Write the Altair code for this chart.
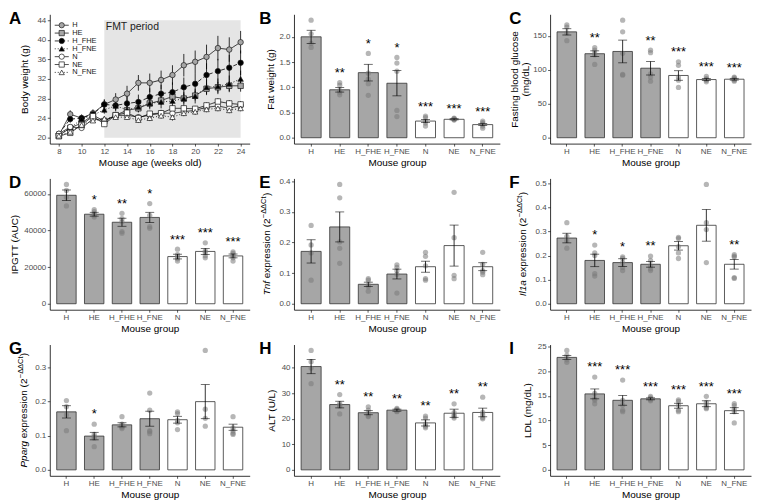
import altair as alt
import pandas as pd

FONT = "Liberation Sans"
LABEL_COLOR = "#4d4d4d"

# ---------------- data ----------------
GROUPS = ["H", "HE", "H_FHE", "H_FNE", "N", "NE", "N_FNE"]
GROUP_KIND = ["H", "H", "H", "H", "N", "N", "N"]

# Panel A: body weight time course
WEEKS = list(range(8, 25))
FMT_WEEKS = [12, 24]
SERIES = ["H", "HE", "H_FHE", "H_FNE", "N", "NE", "N_FNE"]
BW_MEAN = {
    "H":     [20.5, 24.8, 24.0, 25.0, 26.8, 27.8, 29.0, 31.2, 31.2, 31.8, 32.8, 34.8, 35.5, 36.5, 38.3, 38.0, 39.5],
    "HE":    [20.4, 22.0, 23.0, 24.6, 23.4, 24.6, 25.6, 26.0, 27.0, 27.6, 28.4, 28.0, 28.6, 30.0, 30.3, 30.6, 30.6],
    "H_FHE": [20.8, 23.8, 24.0, 24.8, 26.8, 26.6, 27.0, 27.3, 28.3, 29.0, 29.3, 30.3, 31.0, 32.8, 33.6, 34.3, 35.3],
    "H_FNE": [20.6, 22.0, 23.8, 24.6, 25.7, 26.5, 25.7, 26.3, 27.0, 27.3, 27.5, 28.0, 28.5, 30.3, 30.5, 31.0, 32.0],
    "N":     [20.8, 22.2, 22.0, 23.8, 23.5, 24.5, 24.6, 24.2, 24.6, 25.0, 25.0, 25.3, 25.6, 26.2, 26.5, 26.0, 26.6],
    "NE":    [20.3, 21.0, 22.6, 24.4, 22.8, 24.6, 25.1, 24.0, 24.9, 25.0, 26.0, 26.0, 25.9, 26.6, 27.4, 27.0, 26.8],
    "N_FNE": [20.4, 21.2, 22.6, 23.5, 23.9, 24.2, 24.2, 23.6, 24.0, 24.5, 24.2, 25.0, 25.3, 25.8, 26.0, 25.6, 26.0],
}
BW_SE = {
    "H":     [0.5, 0.8, 0.7, 0.8, 1.0, 1.3, 1.6, 1.6, 1.9, 1.9, 2.0, 2.3, 2.3, 2.5, 2.5, 2.5, 2.3],
    "HE":    [0.4, 0.5, 0.6, 0.6, 0.7, 0.7, 0.8, 0.8, 0.9, 0.9, 1.0, 1.0, 1.0, 1.1, 1.1, 1.1, 1.2],
    "H_FHE": [0.5, 0.7, 0.7, 0.8, 1.0, 1.2, 1.5, 1.5, 1.8, 1.8, 2.0, 2.0, 2.2, 2.4, 2.5, 2.6, 2.5],
    "H_FNE": [0.4, 0.5, 0.6, 0.7, 0.8, 0.9, 1.0, 1.1, 1.2, 1.3, 1.4, 1.4, 1.5, 1.6, 1.6, 1.7, 1.7],
    "N":     [0.4, 0.5, 0.5, 0.5, 0.6, 0.6, 0.6, 0.6, 0.6, 0.7, 0.7, 0.7, 0.7, 0.7, 0.7, 0.8, 0.8],
    "NE":    [0.4, 0.4, 0.5, 0.5, 0.5, 0.5, 0.5, 0.6, 0.6, 0.6, 0.6, 0.6, 0.6, 0.6, 0.7, 0.7, 0.7],
    "N_FNE": [0.4, 0.4, 0.5, 0.5, 0.5, 0.5, 0.5, 0.6, 0.6, 0.6, 0.7, 0.6, 0.6, 0.6, 0.6, 0.6, 0.6],
}
A_TICKS = [20, 24, 28, 32, 36, 40, 44]
A_XTICKS = [8, 10, 12, 14, 16, 18, 20, 22, 24]
SHAPES = ["circle", "square", "circle", "triangle-up", "circle", "square", "triangle-up"]
FILLS = ["#A6A6A6", "#A6A6A6", "#000000", "#000000", "#FFFFFF", "#FFFFFF", "#FFFFFF"]
DASHES = [[1, 0], [1, 0], [4, 2.5], [1, 2], [1, 0], [1, 0], [1, 2]]

# Panel B: fat weight
FAT_MEAN = [2.00, 0.95, 1.29, 1.08, 0.33, 0.365, 0.26]
FAT_SE = [0.13, 0.045, 0.165, 0.25, 0.03, 0.012, 0.02]
FAT_PTS = [[2.33, 2.06, 1.87, 1.79], [1.09, 1.04, 0.94, 0.90, 0.85], [1.67, 1.28, 1.16, 1.07, 0.84],
           [1.59, 1.48, 1.32, 0.54, 0.42], [0.43, 0.40, 0.33, 0.29, 0.23], [0.39, 0.38, 0.37, 0.36, 0.35],
           [0.33, 0.30, 0.27, 0.23, 0.19]]
FAT_SIG = ["", "**", "*", "*", "***", "***", "***"]

# Panel C: fasting blood glucose
GLU_MEAN = [155.6, 123.5, 126.8, 102.2, 91.5, 85.5, 86.0]
GLU_SE = [4.6, 4.2, 16.7, 10.0, 7.0, 1.5, 1.3]
GLU_PTS = [[165.8, 162.6, 154.0, 142.6], [132.4, 128.7, 124.0, 121.7, 107.8], [172.8, 155.6, 124.0, 93.0, 92.0],
           [128.7, 125.0, 93.8, 89.2, 83.1], [111.5, 106.4, 89.2, 84.5, 73.9], [90.0, 86.9, 85.5, 84.5, 82.2],
           [89.2, 87.8, 86.0, 84.5, 83.1]]
GLU_SIG = ["", "**", "", "**", "***", "***", "***"]

# Panel D: IPGTT
IPGTT_MEAN = [59300, 48950, 44560, 47190, 25790, 28600, 26140]
IPGTT_SE = [2900, 1050, 2200, 2800, 1300, 1670, 1050]
IPGTT_PTS = [[65260, 61930, 58250, 53500], [51400, 50350, 49120, 48250, 47370], [49470, 46490, 44740, 39470, 38600],
             [54740, 48250, 42100, 41230], [29820, 26840, 25790, 24560, 23330], [33330, 28950, 28070, 26300, 25090],
             [28420, 27540, 26300, 25090, 23330]]
IPGTT_SIG = ["", "*", "**", "*", "***", "***", "***"]

# Panel E: Tnf
TNF_MEAN = [0.171, 0.251, 0.0635, 0.097, 0.121, 0.190, 0.121]
TNF_SE = [0.038, 0.049, 0.007, 0.016, 0.018, 0.067, 0.013]
TNF_PTS = [[0.256, 0.192, 0.166, 0.077], [0.390, 0.346, 0.202, 0.181, 0.132], [0.082, 0.077, 0.061, 0.056, 0.041],
           [0.127, 0.119, 0.108, 0.096, 0.035], [0.168, 0.155, 0.124, 0.082, 0.077], [0.364, 0.216, 0.093, 0.082],
           [0.168, 0.129, 0.108, 0.103, 0.095]]
TNF_SIG = ["", "", "", "", "", "", ""]

# Panel F: Il1a
IL1A_MEAN = [0.273, 0.180, 0.171, 0.164, 0.241, 0.326, 0.164]
IL1A_SE = [0.020, 0.026, 0.016, 0.012, 0.018, 0.066, 0.020]
IL1A_PTS = [[0.337, 0.280, 0.262, 0.231], [0.244, 0.211, 0.200, 0.125, 0.115], [0.195, 0.188, 0.171, 0.151, 0.138],
            [0.198, 0.180, 0.158, 0.145, 0.138], [0.276, 0.271, 0.237, 0.211, 0.188], [0.496, 0.337, 0.308, 0.171],
            [0.204, 0.198, 0.194, 0.109, 0.105]]
IL1A_SIG = ["", "*", "*", "**", "", "", "**"]

# Panel G: Pparg
PPARG_MEAN = [0.170, 0.099, 0.132, 0.150, 0.147, 0.200, 0.125]
PPARG_SE = [0.018, 0.011, 0.006, 0.022, 0.010, 0.050, 0.009]
PPARG_PTS = [[0.203, 0.185, 0.161, 0.115], [0.134, 0.104, 0.097, 0.093, 0.068], [0.156, 0.134, 0.128, 0.125, 0.121],
             [0.225, 0.175, 0.115, 0.112, 0.106], [0.170, 0.165, 0.145, 0.138, 0.118], [0.350, 0.178, 0.151, 0.128],
             [0.156, 0.123, 0.114, 0.107, 0.104]]
PPARG_SIG = ["", "*", "", "", "", "", ""]

# Panel H: ALT
ALT_MEAN = [40.5, 25.6, 22.4, 23.4, 18.4, 22.2, 22.5]
ALT_SE = [2.8, 1.3, 0.8, 0.4, 1.2, 1.6, 1.7]
ALT_PTS = [[46.8, 42.4, 39.9, 33.8], [29.5, 26.0, 25.3, 24.9, 21.9], [24.7, 23.4, 21.8, 21.1, 20.9],
           [24.1, 23.7, 23.3, 23.0, 22.8], [21.1, 20.3, 18.0, 17.1, 16.5], [25.9, 22.4, 21.5, 20.9, 20.3],
           [28.5, 22.5, 21.5, 20.5, 20.0]]
ALT_SIG = ["", "**", "**", "**", "**", "**", "**"]

# Panel I: LDL
LDL_MEAN = [22.8, 15.4, 14.1, 14.4, 13.0, 13.4, 12.0]
LDL_SE = [0.4, 1.0, 1.0, 0.2, 0.5, 0.6, 0.6]
LDL_PTS = [[24.2, 23.2, 22.3, 21.8], [18.8, 15.5, 14.4, 14.1, 13.4], [18.2, 14.1, 13.1, 12.1, 11.8],
           [14.9, 14.6, 14.4, 14.2, 14.0], [14.2, 13.9, 13.1, 12.1, 11.8], [14.9, 13.7, 13.1, 12.6, 12.4],
           [13.4, 13.0, 12.3, 11.8, 9.5]]
LDL_SIG = ["", "***", "***", "***", "***", "***", "***"]

# ---------------- helpers ----------------
DUMMY = pd.DataFrame({"d": [0]})

# Arial / Liberation Sans advance widths (per 1000 em) for manual title layout
ADV = {"T": 611, "n": 556, "f": 278, "I": 278, "l": 222, "1": 556, "a": 556, "P": 667, "p": 556,
       "r": 333, "g": 556, " ": 278, "e": 556, "x": 500, "s": 500, "i": 222, "o": 556, "(": 333,
       ")": 333, "2": 556, "\u2212": 584, "\u0394": 668, "C": 722, "t": 278}


def tw(s, fs):
    return sum(ADV.get(c, 556) for c in s) * fs / 1000.0


def y_axis(values, fmt, title, off):
    return alt.Axis(title=title, values=values, format=fmt, tickSize=2.5, labelPadding=1.5,
                    minExtent=off - 2, maxExtent=off - 2, titlePadding=2, titleLineHeight=11,
                    labelFlush=False, labelOverlap=False)


def letter_layer(letter, lx):
    return alt.Chart(DUMMY).mark_text(text=letter, fontSize=17, fontWeight="bold", align="left",
                                      baseline="top", color="black").encode(
        x=alt.value(lx), y=alt.value(-3))


def gene_title(gene, h, off):
    # (text, font size, style, baseline rise, gap before)
    pieces = [(gene, 10, "italic", 0, 0), ("expression (2", 10, "normal", 0, tw(" ", 10)),
              ("\u2212\u0394\u0394Ct", 7.5, "normal", 3.6, 0.3), (")", 10, "normal", 0, 0.3)]
    total = sum(tw(p[0], p[1]) + p[4] for p in pieces)
    y = h / 2 + total / 2
    base = -(off + 2.1)
    layers = []
    for txt, fs, style, rise, gap in pieces:
        y -= gap
        layers.append(alt.Chart(DUMMY).mark_text(text=txt, fontSize=fs, fontStyle=style, angle=270,
                                                 align="left", baseline="alphabetic", color="black").encode(
            x=alt.value(base - rise), y=alt.value(y)))
        y -= tw(txt, fs)
    return layers


def bar_panel(letter, lx, ytitle, off, means, ses, pts, sig, ticks, fmt, w, h, gene=None):
    M = max(max(max(p) for p in pts), max(m + s for m, s in zip(means, ses)))
    dom = [-0.05 * M, 1.05 * M]
    summ = pd.DataFrame({
        "group": GROUPS, "kind": GROUP_KIND, "mean": means,
        "lo": [m - s for m, s in zip(means, ses)], "hi": [m + s for m, s in zip(means, ses)],
        "sig": sig,
        "top": [max(max(p), m + s) + 0.11 * M for p, m, s in zip(pts, means, ses)],
    })
    sig_df = summ[summ["sig"] != ""]
    pdf = pd.DataFrame([{"group": g, "value": v} for g, p in zip(GROUPS, pts) for v in p])
    x = alt.X("group:N", scale=alt.Scale(domain=GROUPS, paddingInner=0.3, paddingOuter=0.25),
              axis=alt.Axis(title="Mouse group", labelAngle=0, tickSize=2.5, labelPadding=1.5,
                            minExtent=12, maxExtent=12, titlePadding=2, labelOverlap=False,
                            labelFlush=False))
    ysc = alt.Scale(domain=dom, nice=False, zero=False)
    yax = y_axis(ticks, fmt, ytitle, off)

    def Y(f):
        return alt.Y(f, scale=ysc, axis=yax)

    bars = alt.Chart(summ).mark_bar(stroke="#333333", strokeWidth=0.8).encode(
        x=x, y=Y("mean:Q"), y2=alt.datum(0),
        fill=alt.Fill("kind:N", scale=alt.Scale(domain=["H", "N"], range=["#C4C4C4", "#FFFFFF"]), legend=None))
    points = alt.Chart(pdf).mark_circle(size=28, color="#7a7a7a", opacity=0.55).encode(x=x, y=Y("value:Q"))
    err = alt.Chart(summ).mark_rule(color="black", strokeWidth=0.8).encode(x=x, y=Y("lo:Q"), y2="hi:Q")
    cap_lo = alt.Chart(summ).mark_tick(color="black", thickness=0.8, size=9).encode(x=x, y=Y("lo:Q"))
    cap_hi = alt.Chart(summ).mark_tick(color="black", thickness=0.8, size=9).encode(x=x, y=Y("hi:Q"))
    layers = [bars, points, err, cap_lo, cap_hi]
    if len(sig_df):
        stars = alt.Chart(sig_df).mark_text(fontSize=13, dy=3.5, baseline="middle", color="black").encode(
            x=x, y=Y("top:Q"), text="sig:N")
        layers.append(stars)
    layers.append(letter_layer(letter, lx))
    if gene:
        layers += gene_title(gene, h, off)
    return alt.layer(*layers).properties(width=w, height=h)


# ---------------- panel A ----------------
def panel_a(letter_x, w, h):
    rows = []
    for s in SERIES:
        for wk, m, e in zip(WEEKS, BW_MEAN[s], BW_SE[s]):
            rows.append({"series": s, "week": wk, "mean": m, "lo": m - e, "hi": m + e})
    bw = pd.DataFrame(rows)
    ydom = [18.8, 45.2]
    xsc = alt.Scale(domain=[7.2, 24.8], nice=False, zero=False)
    xax = alt.Axis(title="Mouse age (weeks old)", values=A_XTICKS, format="d", tickSize=2.5,
                   labelPadding=1.5, minExtent=12, maxExtent=12, titlePadding=2, labelFlush=False)
    ysc = alt.Scale(domain=ydom, nice=False, zero=False)
    yax = y_axis(A_TICKS, "d", "Body weight (g)", 20.5)

    def X(f):
        return alt.X(f, scale=xsc, axis=xax)

    def Y(f):
        return alt.Y(f, scale=ysc, axis=yax)

    shape_enc = alt.Shape("series:N", scale=alt.Scale(domain=SERIES, range=SHAPES), legend=None)
    fill_enc = alt.Fill("series:N", scale=alt.Scale(domain=SERIES, range=FILLS), legend=None)
    dash_enc = alt.StrokeDash("series:N", scale=alt.Scale(domain=SERIES, range=DASHES), legend=None)

    fmt_df = pd.DataFrame({"x": [FMT_WEEKS[0]], "x2": [FMT_WEEKS[1]], "y": [A_TICKS[0]],
                           "y2": [A_TICKS[-1]], "label": ["FMT period"]})
    rect = alt.Chart(fmt_df).mark_rect(color="#E5E5E5").encode(x=X("x:Q"), x2="x2:Q", y=Y("y:Q"), y2="y2:Q")
    fmt_text = alt.Chart(fmt_df).mark_text(align="left", baseline="top", dx=1.5, dy=1.5, fontSize=10.5,
                                           color="#222222").encode(x=X("x:Q"), y=Y("y2:Q"), text="label:N")
    err = alt.Chart(bw).mark_rule(color="black", strokeWidth=0.8).encode(x=X("week:Q"), y=Y("lo:Q"), y2="hi:Q")
    lines = alt.Chart(bw).mark_line(color="black", strokeWidth=0.8).encode(
        x=X("week:Q"), y=Y("mean:Q"), strokeDash=dash_enc, detail="series:N")
    pts = alt.Chart(bw).mark_point(filled=True, size=30, stroke="#1a1a1a", strokeWidth=0.7, opacity=1).encode(
        x=X("week:Q"), y=Y("mean:Q"), shape=shape_enc, fill=fill_enc)

    # legend rows: pixel layout converted to data units of the y scale
    top_px, step_px = 11.0, 7.9
    span = ydom[1] - ydom[0]
    leg_df = pd.DataFrame({"series": SERIES})
    leg_df["ly"] = [ydom[1] - (top_px + i * step_px) / h * span for i in range(len(SERIES))]
    leg_rule = alt.Chart(leg_df).mark_rule(color="black", strokeWidth=0.8).encode(
        x=alt.value(5), x2=alt.value(19), y=Y("ly:Q"), strokeDash=dash_enc)
    leg_pts = alt.Chart(leg_df).mark_point(filled=True, size=28, stroke="#1a1a1a", strokeWidth=0.7,
                                           opacity=1).encode(x=alt.value(12), y=Y("ly:Q"), shape=shape_enc,
                                                             fill=fill_enc)
    leg_txt = alt.Chart(leg_df).mark_text(align="left", baseline="middle", fontSize=7.5, color="#1a1a1a").encode(
        x=alt.value(22.5), y=Y("ly:Q"), text="series:N")
    return alt.layer(rect, fmt_text, err, lines, pts, leg_rule, leg_pts, leg_txt,
                     letter_layer("A", letter_x)).properties(width=w, height=h)


# ---------------- assemble ----------------
# columns are aligned by plot origin: common letter offset and width per column
H1, H2, H3 = 130, 132, 132
L1, W1 = -41, 201      # column 1
L2, W2 = -35, 207      # column 2
L3, W3 = -41, 202      # column 3

pA = panel_a(L1, W1, H1)
pB = bar_panel("B", L2, "Fat weight (g)", 19, FAT_MEAN, FAT_SE, FAT_PTS, FAT_SIG,
               [0, 0.5, 1.0, 1.5, 2.0], ".1f", W2, H1)
pC = bar_panel("C", L3, ["Fasting blood glucose", "(mg/dL)"], 19.5, GLU_MEAN, GLU_SE, GLU_PTS, GLU_SIG,
               [0, 50, 100, 150], "d", W3, H1)
pD = bar_panel("D", L1, "IPGTT (AUC)", 30, IPGTT_MEAN, IPGTT_SE, IPGTT_PTS, IPGTT_SIG,
               [0, 20000, 40000, 60000], "d", W1, H2)
pE = bar_panel("E", L2, "", 22, TNF_MEAN, TNF_SE, TNF_PTS, TNF_SIG,
               [0, 0.1, 0.2, 0.3, 0.4], ".1f", W2, H2, gene="Tnf")
pF = bar_panel("F", L3, "", 22.5, IL1A_MEAN, IL1A_SE, IL1A_PTS, IL1A_SIG,
               [0, 0.1, 0.2, 0.3, 0.4, 0.5], ".1f", W3, H2, gene="Il1a")
pG = bar_panel("G", L1, "", 21, PPARG_MEAN, PPARG_SE, PPARG_PTS, PPARG_SIG,
               [0, 0.1, 0.2, 0.3], ".1f", W1, H3, gene="Pparg")
pH = bar_panel("H", L2, "ALT (U/L)", 17.7, ALT_MEAN, ALT_SE, ALT_PTS, ALT_SIG,
               [0, 10, 20, 30, 40], "d", W2, H3)
pI = bar_panel("I", L3, "LDL (mg/dL)", 17.7, LDL_MEAN, LDL_SE, LDL_PTS, LDL_SIG,
               [0, 5, 10, 15, 20, 25], "d", W3, H3)

chart = alt.concat(pA, pB, pC, pD, pE, pF, pG, pH, pI, columns=3,
                   spacing={"row": 5, "column": 7.5}).properties(padding=0).configure(
    font=FONT
).configure_view(
    stroke="transparent"
).configure_axis(
    grid=False, domainColor="black", domainWidth=0.8, tickColor="#333333", tickWidth=0.8,
    labelColor=LABEL_COLOR, labelFontSize=8, titleFontSize=10, titleFontWeight="normal", titleColor="black"
)

chart.save("out.html", embed_options={"renderer": "svg", "actions": False})
